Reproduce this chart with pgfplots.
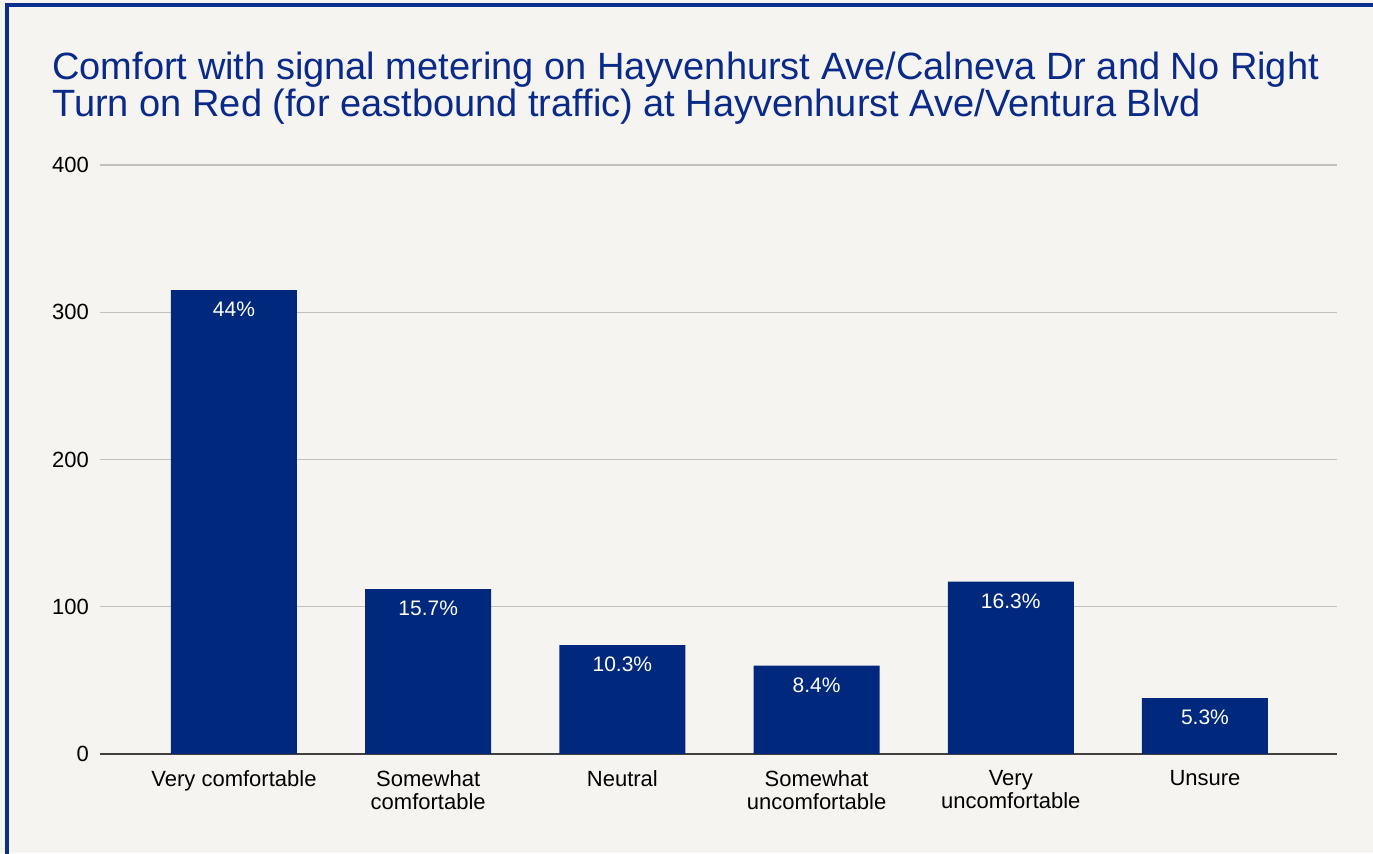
\documentclass[border=0pt]{standalone}
\usepackage{fontspec}
\setmainfont{Liberation Sans}
\usepackage{pgfplots}
\pgfplotsset{compat=1.18}
\definecolor{bg}{HTML}{F5F4F0}
\definecolor{framec}{HTML}{0A2F8C}
\definecolor{barc}{HTML}{00287D}
\definecolor{ttl}{HTML}{0A2A8A}
\definecolor{gridc}{HTML}{C0C0C0}
\begin{document}
\begin{tikzpicture}
\useasboundingbox (0,0) rectangle (686.5pt,426.5pt);
\fill[bg] (0,0) rectangle (686.5pt,426.5pt);
\draw[framec, line width=1.6pt] (3.5pt,-2pt) -- (3.5pt,424pt) -- (690pt,424pt);
\node[anchor=base west, inner sep=0pt, text=ttl, font=\fontsize{19}{20}\selectfont] at (26pt,386.5pt) {Comfort with signal metering on Hayvenhurst Ave/Calneva Dr and No Right};
\node[anchor=base west, inner sep=0pt, text=ttl, font=\fontsize{19}{20}\selectfont] at (26pt,368pt) {Turn on Red (for eastbound traffic) at Hayvenhurst Ave/Ventura Blvd};
\begin{axis}[
  at={(50pt,49.5pt)}, anchor=south west,
  scale only axis, width=618.5pt, height=294.5pt,
  xmin=-0.69, xmax=5.68, ymin=0, ymax=400,
  axis line style={draw=none},
  tick style={draw=none},
  ytick={100,200,300,400},
  extra y ticks={0},
  extra y tick style={grid style={draw=black!75, line width=0.6pt}},
  ymajorgrids,
  grid style={draw=gridc, line width=0.7pt},
  /pgf/number format/assume math mode=true,
  yticklabel style={font=\fontsize{11}{13}\selectfont, xshift=-2pt},
  xtick={0,1,2,3,4,5},
  xticklabels={Very comfortable, Somewhat\\comfortable, Neutral, Somewhat\\uncomfortable, Very\\uncomfortable, Unsure},
  xticklabel style={font=\fontsize{11}{11.5}\selectfont, align=center, yshift=-0.5pt},
  ybar, bar width=63pt,
  point meta=explicit symbolic,
  nodes near coords,
  every node near coord/.append style={anchor=north, text=white, font=\fontsize{10.5}{12}\selectfont, yshift=-2.5pt},
]
\addplot[fill=barc, draw=none] coordinates {
  (0,315) [44\%]
  (1,112) [15.7\%]
  (2,74) [10.3\%]
  (3,60) [8.4\%]
  (4,117) [16.3\%]
  (5,38) [5.3\%]
};
\end{axis}
\end{tikzpicture}
\end{document}
